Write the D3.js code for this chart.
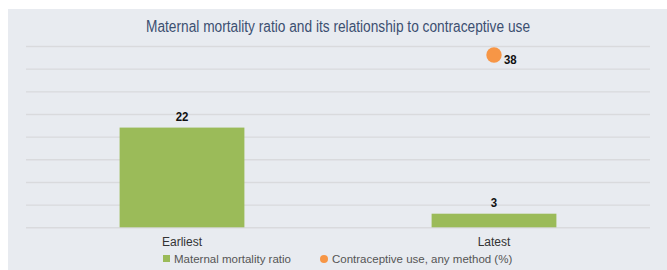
<!DOCTYPE html>
<html>
<head>
<meta charset="utf-8">
<script src="https://cdn.jsdelivr.net/npm/d3@7"></script>
<style>
  html, body { margin: 0; padding: 0; background: #fff; }
  svg { display: block; }
  .grid line { stroke: #d9dadd; stroke-width: 1.4; }
  .grid .domain { display: none; }
  .val { font-family: "Liberation Sans Narrow", "Liberation Sans", Arial, sans-serif; font-weight: bold; font-size: 13px; fill: #111; }
  .cat { font-family: "Liberation Sans", Arial, sans-serif; font-size: 12px; fill: #333; }
  .leg { font-family: "Liberation Sans", Arial, sans-serif; font-size: 11.5px; fill: #555; }
</style>
</head>
<body>
<div id="chart"></div>
<script>
// chart data
const TITLE = 'Maternal mortality ratio and its relationship to contraceptive use';
const CATEGORIES = ['Earliest', 'Latest'];
const MMR = [22, 3];              // bars
const CONTRACEPTIVE = [null, 38]; // dots
const SERIES = ['Maternal mortality ratio', 'Contraceptive use, any method (%)'];
const Y_MAX = 40;

const W = 667, H = 270,
      GREEN = '#9bbb59',
      ORANGE = '#f79646';

const plot = {left: 26, right: 650, top: 46, bottom: 227.3};

const svg = d3.select('#chart').append('svg')
  .attr('width', W)
  .attr('height', H);

// panel
svg.append('rect')
  .attr('x', 8).attr('y', 9)
  .attr('width', W - 8).attr('height', H - 9)
  .attr('fill', '#e8ebf0');

// title is set in a narrow face in the original, so squeeze it
svg.append('text')
  .attr('x', 338).attr('y', 32)
  .attr('text-anchor', 'middle')
  .attr('textLength', 384)
  .attr('lengthAdjust', 'spacingAndGlyphs')
  .style('font-family', '"Liberation Sans", Arial, sans-serif')
  .style('font-size', '16px')
  .style('fill', '#3c4f70')
  .text(TITLE);

const x = d3.scaleBand()
  .domain(CATEGORIES)
  .range([plot.left, plot.right])
  .paddingInner(0.6)
  .paddingOuter(0.3);

const y = d3.scaleLinear()
  .domain([0, Y_MAX])
  .range([plot.bottom, plot.top]);

svg.append('g')
  .attr('class', 'grid')
  .attr('transform', `translate(${plot.left},0)`)
  .call(d3.axisLeft(y).ticks(8).tickSize(-(plot.right - plot.left)).tickFormat(''));

const cx = d => x(d) + x.bandwidth() / 2;

// narrow value label helper
const valLabel = (sel, px, py, anchor) => sel
  .attr('transform', (d, i) => `translate(${px(d, i)},${py(d, i)}) scale(0.88,1)`)
  .attr('class', 'val')
  .attr('text-anchor', anchor);

// bars
svg.selectAll('rect.bar')
  .data(CATEGORIES)
  .enter()
  .append('rect')
  .attr('class', 'bar')
  .attr('x', d => x(d))
  .attr('width', x.bandwidth())
  .attr('y', (d, i) => y(MMR[i]))
  .attr('height', (d, i) => y(0) - y(MMR[i]))
  .attr('fill', GREEN);

svg.selectAll('text.barval')
  .data(CATEGORIES)
  .enter()
  .append('text')
  .call(valLabel, d => cx(d), (d, i) => y(MMR[i]) - 7, 'middle')
  .text((d, i) => MMR[i]);

// dots
const dots = CATEGORIES.map((c, i) => ({c, v: CONTRACEPTIVE[i]})).filter(d => d.v != null);

svg.selectAll('circle.dot')
  .data(dots)
  .enter()
  .append('circle')
  .attr('cx', d => cx(d.c))
  .attr('cy', d => y(d.v))
  .attr('r', 7.7)
  .attr('fill', ORANGE);

svg.selectAll('text.dotval')
  .data(dots)
  .enter()
  .append('text')
  .call(valLabel, d => cx(d.c) + 10, d => y(d.v) + 9, 'start')
  .text(d => d.v);

// category labels
svg.selectAll('text.cat')
  .data(CATEGORIES)
  .enter()
  .append('text')
  .attr('class', 'cat')
  .attr('x', d => cx(d))
  .attr('y', 246)
  .attr('text-anchor', 'middle')
  .text(d => d);

// legend
const leg = svg.append('g').attr('transform', 'translate(0,259)');
leg.append('rect')
  .attr('x', 163).attr('y', -4)
  .attr('width', 7).attr('height', 7)
  .attr('fill', GREEN);
leg.append('text')
  .attr('class', 'leg')
  .attr('x', 174).attr('y', 4)
  .text(SERIES[0]);
leg.append('circle')
  .attr('cx', 324).attr('cy', 0)
  .attr('r', 4)
  .attr('fill', ORANGE);
leg.append('text')
  .attr('class', 'leg')
  .attr('x', 332).attr('y', 4)
  .text(SERIES[1]);
</script>
</body>
</html>
